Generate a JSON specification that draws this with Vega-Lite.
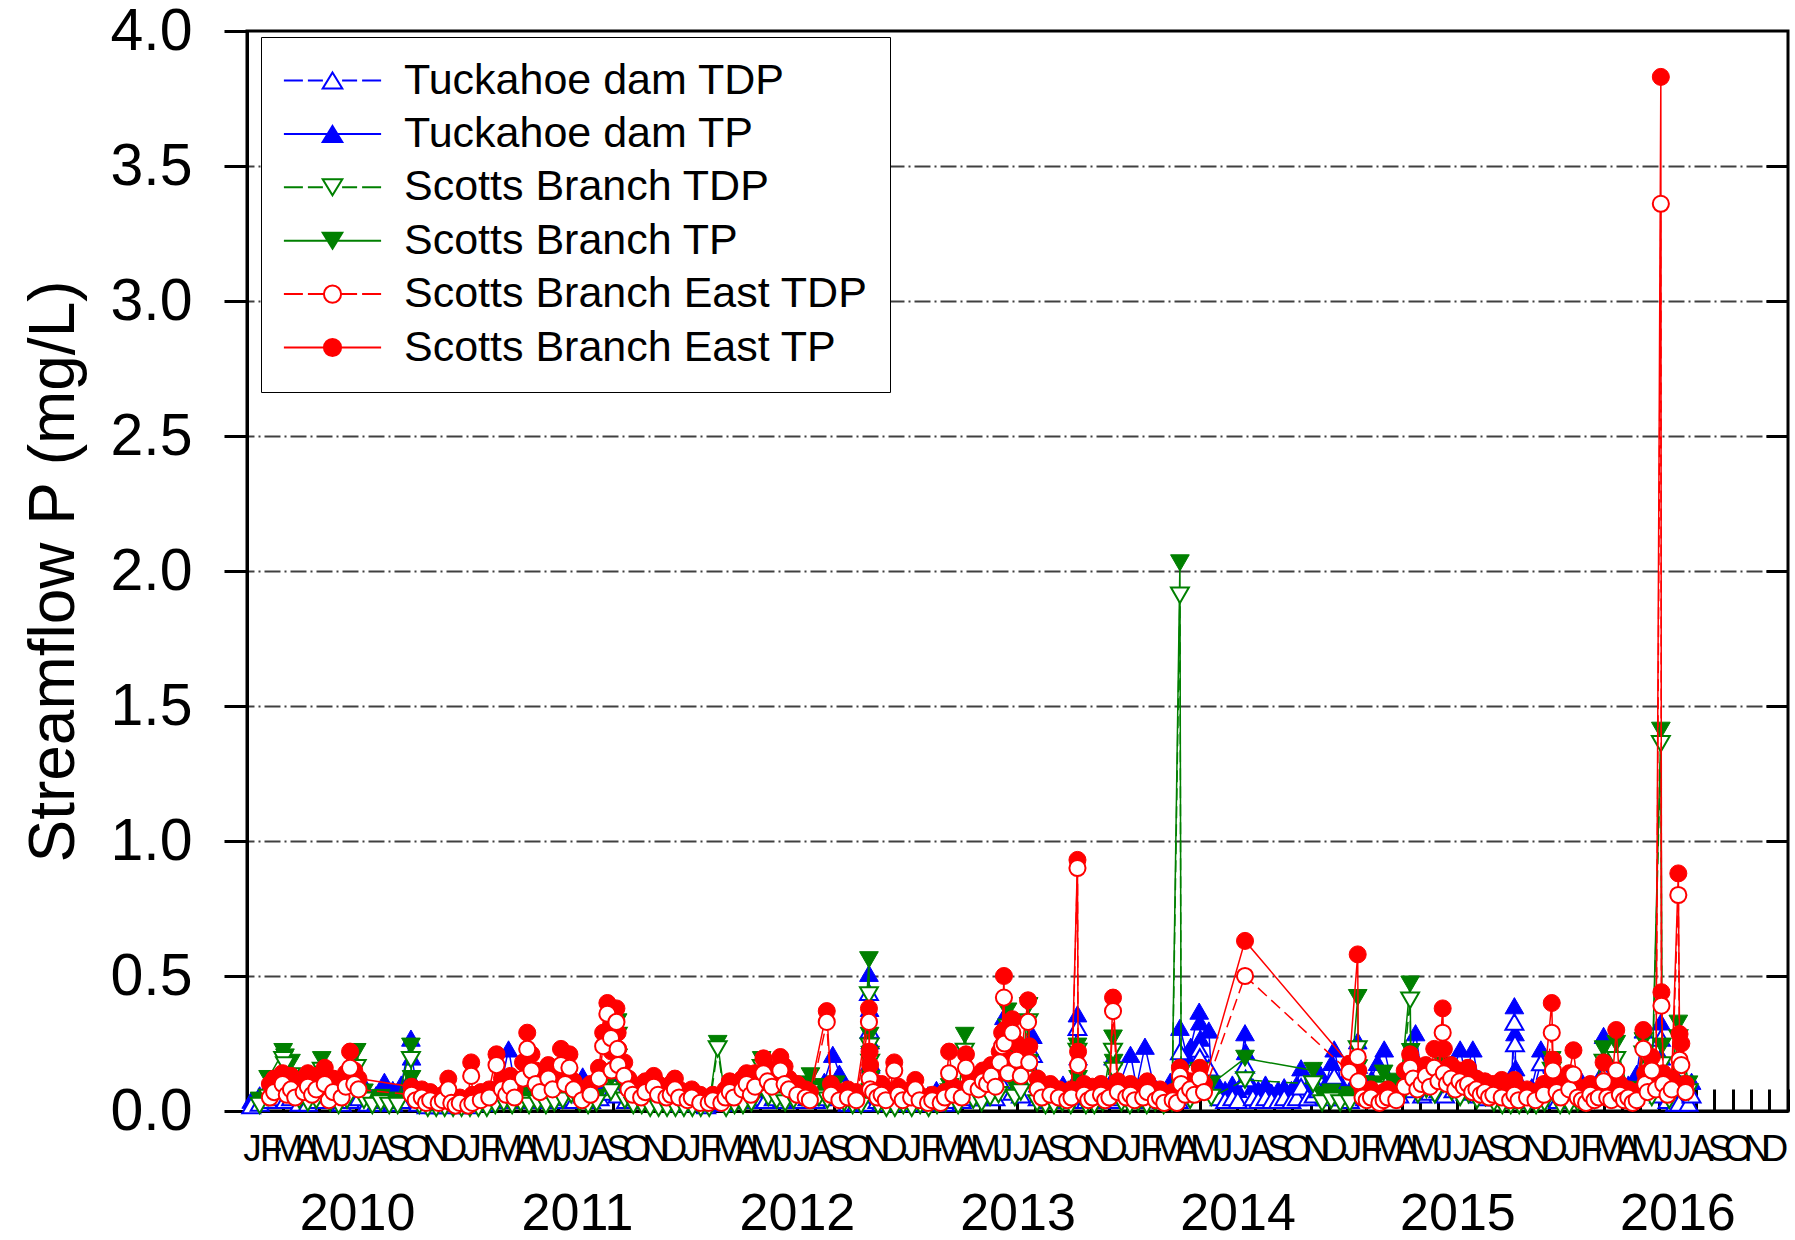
{
"$schema":"https://vega.github.io/schema/vega-lite/v6.json",
"width":1541,"height":1080,
"autosize":{"type":"none"},
"padding":{"left":247,"top":31,"right":7,"bottom":129},
"background":"#ffffff",
"config":{"font":"Liberation Sans","view":{"stroke":"#000000","strokeWidth":3}},
"resolve":{"axis":{"x":"independent","y":"independent"}},
"datasets":{
"tuck":[
{"d":"2010/01/08","a":0.02,"b":0.04},{"d":"2010/01/22","a":0.03,"b":0.06},{"d":"2010/02/05","a":0.04,"b":0.09},{"d":"2010/02/19","a":0.05,"b":0.13},{"d":"2010/03/05","a":0.04,"b":0.08},{"d":"2010/03/15","a":0.05,"b":0.10},{"d":"2010/03/29","a":0.03,"b":0.06},{"d":"2010/04/12","a":0.03,"b":0.07},{"d":"2010/04/26","a":0.04,"b":0.09},{"d":"2010/05/10","a":0.06,"b":0.16},{"d":"2010/05/24","a":0.04,"b":0.10},{"d":"2010/06/07","a":0.03,"b":0.07},{"d":"2010/06/21","a":0.04,"b":0.09},{"d":"2010/07/06","a":0.05,"b":0.13},{"d":"2010/07/20","a":0.03,"b":0.07},{"d":"2010/08/03","a":0.03,"b":0.06},{"d":"2010/08/17","a":0.04,"b":0.11},{"d":"2010/08/31","a":0.03,"b":0.08},{"d":"2010/09/14","a":0.04,"b":0.10},{"d":"2010/09/30","a":0.12,"b":0.27},{"d":"2010/10/01","a":0.08,"b":0.20},{"d":"2010/10/12","a":0.03,"b":0.07},{"d":"2010/10/26","a":0.02,"b":0.05},{"d":"2010/11/09","a":0.02,"b":0.04},{"d":"2010/11/23","a":0.02,"b":0.05},{"d":"2010/12/07","a":0.03,"b":0.05},{"d":"2010/12/21","a":0.02,"b":0.04},
{"d":"2011/01/04","a":0.02,"b":0.04},{"d":"2011/01/18","a":0.03,"b":0.05},{"d":"2011/02/01","a":0.03,"b":0.06},{"d":"2011/02/15","a":0.04,"b":0.08},{"d":"2011/03/01","a":0.05,"b":0.12},{"d":"2011/03/11","a":0.08,"b":0.23},{"d":"2011/03/22","a":0.04,"b":0.09},{"d":"2011/04/05","a":0.04,"b":0.10},{"d":"2011/04/17","a":0.05,"b":0.12},{"d":"2011/05/02","a":0.04,"b":0.09},{"d":"2011/05/16","a":0.05,"b":0.11},{"d":"2011/05/31","a":0.04,"b":0.08},{"d":"2011/06/14","a":0.05,"b":0.10},{"d":"2011/06/28","a":0.04,"b":0.09},{"d":"2011/07/12","a":0.06,"b":0.13},{"d":"2011/07/26","a":0.04,"b":0.08},{"d":"2011/08/09","a":0.05,"b":0.11},{"d":"2011/08/28","a":0.07,"b":0.16},{"d":"2011/09/08","a":0.06,"b":0.14},{"d":"2011/09/22","a":0.04,"b":0.09},{"d":"2011/10/06","a":0.04,"b":0.08},{"d":"2011/10/20","a":0.05,"b":0.10},{"d":"2011/11/03","a":0.04,"b":0.09},{"d":"2011/11/17","a":0.05,"b":0.10},{"d":"2011/12/01","a":0.04,"b":0.08},{"d":"2011/12/15","a":0.03,"b":0.07},
{"d":"2012/01/05","a":0.03,"b":0.06},{"d":"2012/01/19","a":0.03,"b":0.05},{"d":"2012/02/02","a":0.02,"b":0.05},{"d":"2012/02/16","a":0.03,"b":0.06},{"d":"2012/03/01","a":0.03,"b":0.07},{"d":"2012/03/15","a":0.04,"b":0.08},{"d":"2012/03/29","a":0.04,"b":0.09},{"d":"2012/04/12","a":0.04,"b":0.08},{"d":"2012/04/26","a":0.05,"b":0.10},{"d":"2012/05/10","a":0.04,"b":0.09},{"d":"2012/05/24","a":0.05,"b":0.11},{"d":"2012/06/07","a":0.04,"b":0.10},{"d":"2012/06/21","a":0.05,"b":0.12},{"d":"2012/07/05","a":0.04,"b":0.09},{"d":"2012/07/19","a":0.05,"b":0.10},{"d":"2012/08/02","a":0.04,"b":0.09},{"d":"2012/08/16","a":0.05,"b":0.11},{"d":"2012/08/30","a":0.08,"b":0.21},{"d":"2012/09/10","a":0.06,"b":0.14},{"d":"2012/09/24","a":0.03,"b":0.07},{"d":"2012/10/08","a":0.03,"b":0.06},{"d":"2012/10/22","a":0.03,"b":0.07},{"d":"2012/10/29","a":0.44,"b":0.51},{"d":"2012/10/30","a":0.30,"b":0.38},{"d":"2012/10/31","a":0.18,"b":0.26},{"d":"2012/11/01","a":0.10,"b":0.17},{"d":"2012/11/12","a":0.04,"b":0.08},{"d":"2012/11/26","a":0.03,"b":0.06},{"d":"2012/12/10","a":0.03,"b":0.07},{"d":"2012/12/24","a":0.03,"b":0.06},
{"d":"2013/01/07","a":0.03,"b":0.06},{"d":"2013/01/21","a":0.03,"b":0.07},{"d":"2013/02/04","a":0.03,"b":0.06},{"d":"2013/02/18","a":0.04,"b":0.08},{"d":"2013/03/04","a":0.03,"b":0.07},{"d":"2013/03/18","a":0.04,"b":0.09},{"d":"2013/04/01","a":0.04,"b":0.08},{"d":"2013/04/15","a":0.05,"b":0.10},{"d":"2013/04/29","a":0.05,"b":0.12},{"d":"2013/05/13","a":0.06,"b":0.14},{"d":"2013/05/27","a":0.05,"b":0.11},{"d":"2013/06/07","a":0.10,"b":0.22},{"d":"2013/06/10","a":0.28,"b":0.35},{"d":"2013/06/24","a":0.07,"b":0.15},{"d":"2013/07/08","a":0.06,"b":0.12},{"d":"2013/07/28","a":0.21,"b":0.28},{"d":"2013/08/05","a":0.05,"b":0.10},{"d":"2013/08/19","a":0.04,"b":0.09},{"d":"2013/09/02","a":0.04,"b":0.08},{"d":"2013/09/16","a":0.05,"b":0.10},{"d":"2013/09/30","a":0.04,"b":0.09},{"d":"2013/10/10","a":0.31,"b":0.36},{"d":"2013/10/11","a":0.12,"b":0.20},{"d":"2013/10/24","a":0.04,"b":0.08},{"d":"2013/11/07","a":0.04,"b":0.09},{"d":"2013/11/21","a":0.05,"b":0.10},{"d":"2013/12/05","a":0.04,"b":0.09},{"d":"2013/12/08","a":0.12,"b":0.20},{"d":"2013/12/19","a":0.05,"b":0.10},
{"d":"2014/01/06","a":0.08,"b":0.21},{"d":"2014/01/16","a":0.04,"b":0.09},{"d":"2014/01/30","a":0.10,"b":0.24},{"d":"2014/02/13","a":0.05,"b":0.10},{"d":"2014/02/27","a":0.04,"b":0.08},{"d":"2014/03/13","a":0.05,"b":0.11},{"d":"2014/03/27","a":0.04,"b":0.09},{"d":"2014/03/29","a":0.22,"b":0.31},{"d":"2014/04/10","a":0.12,"b":0.20},{"d":"2014/04/16","a":0.16,"b":0.24},{"d":"2014/04/30","a":0.23,"b":0.37},{"d":"2014/05/01","a":0.20,"b":0.33},{"d":"2014/05/02","a":0.12,"b":0.27},{"d":"2014/05/16","a":0.16,"b":0.30},{"d":"2014/05/20","a":0.08,"b":0.14},{"d":"2014/06/03","a":0.05,"b":0.09},{"d":"2014/06/12","a":0.04,"b":0.08},{"d":"2014/06/24","a":0.05,"b":0.10},{"d":"2014/07/03","a":0.04,"b":0.08},{"d":"2014/07/15","a":0.17,"b":0.29},{"d":"2014/07/16","a":0.12,"b":0.22},{"d":"2014/07/28","a":0.05,"b":0.09},{"d":"2014/08/06","a":0.04,"b":0.08},{"d":"2014/08/18","a":0.05,"b":0.10},{"d":"2014/08/28","a":0.04,"b":0.07},{"d":"2014/09/08","a":0.04,"b":0.08},{"d":"2014/09/18","a":0.05,"b":0.09},{"d":"2014/09/30","a":0.04,"b":0.08},{"d":"2014/10/09","a":0.05,"b":0.10},{"d":"2014/10/16","a":0.09,"b":0.16},{"d":"2014/10/27","a":0.05,"b":0.09},{"d":"2014/11/06","a":0.06,"b":0.11},{"d":"2014/11/14","a":0.08,"b":0.15},{"d":"2014/11/26","a":0.05,"b":0.10},{"d":"2014/12/06","a":0.10,"b":0.18},{"d":"2014/12/10","a":0.13,"b":0.23},{"d":"2014/12/22","a":0.05,"b":0.10},
{"d":"2015/01/05","a":0.04,"b":0.08},{"d":"2015/01/18","a":0.17,"b":0.26},{"d":"2015/01/30","a":0.05,"b":0.09},{"d":"2015/02/10","a":0.06,"b":0.12},{"d":"2015/02/20","a":0.08,"b":0.18},{"d":"2015/03/03","a":0.11,"b":0.23},{"d":"2015/03/16","a":0.05,"b":0.10},{"d":"2015/03/28","a":0.06,"b":0.12},{"d":"2015/04/10","a":0.08,"b":0.15},{"d":"2015/04/24","a":0.14,"b":0.29},{"d":"2015/05/05","a":0.06,"b":0.12},{"d":"2015/05/18","a":0.07,"b":0.14},{"d":"2015/06/01","a":0.08,"b":0.16},{"d":"2015/06/12","a":0.06,"b":0.12},{"d":"2015/06/26","a":0.08,"b":0.15},{"d":"2015/07/07","a":0.12,"b":0.23},{"d":"2015/07/16","a":0.07,"b":0.13},{"d":"2015/07/28","a":0.12,"b":0.23},{"d":"2015/08/06","a":0.06,"b":0.12},{"d":"2015/08/20","a":0.05,"b":0.10},{"d":"2015/09/03","a":0.05,"b":0.09},{"d":"2015/09/17","a":0.06,"b":0.11},{"d":"2015/09/30","a":0.04,"b":0.08},{"d":"2015/10/05","a":0.33,"b":0.39},{"d":"2015/10/06","a":0.25,"b":0.29},{"d":"2015/10/07","a":0.13,"b":0.16},{"d":"2015/10/20","a":0.04,"b":0.08},{"d":"2015/11/03","a":0.05,"b":0.09},{"d":"2015/11/18","a":0.18,"b":0.23},{"d":"2015/12/02","a":0.05,"b":0.09},{"d":"2015/12/16","a":0.04,"b":0.08},{"d":"2015/12/30","a":0.05,"b":0.10},
{"d":"2016/01/13","a":0.05,"b":0.09},{"d":"2016/01/25","a":0.06,"b":0.11},{"d":"2016/02/08","a":0.05,"b":0.10},{"d":"2016/02/22","a":0.06,"b":0.12},{"d":"2016/03/01","a":0.14,"b":0.28},{"d":"2016/03/14","a":0.08,"b":0.16},{"d":"2016/03/28","a":0.06,"b":0.12},{"d":"2016/04/11","a":0.05,"b":0.10},{"d":"2016/04/25","a":0.07,"b":0.14},{"d":"2016/05/06","a":0.13,"b":0.30},{"d":"2016/05/17","a":0.07,"b":0.13},{"d":"2016/06/01","a":0.06,"b":0.12},{"d":"2016/06/04","a":0.27,"b":0.33},{"d":"2016/06/05","a":0.10,"b":0.20},{"d":"2016/06/15","a":0.04,"b":0.08},{"d":"2016/06/28","a":0.03,"b":0.06},{"d":"2016/07/04","a":0.03,"b":0.11},{"d":"2016/07/20","a":0.03,"b":0.06},{"d":"2016/07/25","a":0.06,"b":0.11}
],
"scott":[
{"d":"2010/01/22","a":0.02,"b":0.04},{"d":"2010/02/05","a":0.05,"b":0.12},{"d":"2010/03/02","a":0.19,"b":0.22},{"d":"2010/03/05","a":0.17,"b":0.20},{"d":"2010/03/15","a":0.13,"b":0.18},{"d":"2010/03/29","a":0.04,"b":0.07},{"d":"2010/04/12","a":0.03,"b":0.05},{"d":"2010/04/26","a":0.04,"b":0.06},{"d":"2010/05/05","a":0.15,"b":0.19},{"d":"2010/05/19","a":0.03,"b":0.05},{"d":"2010/06/02","a":0.02,"b":0.04},{"d":"2010/06/16","a":0.04,"b":0.06},{"d":"2010/07/02","a":0.16,"b":0.22},{"d":"2010/07/14","a":0.04,"b":0.07},{"d":"2010/07/28","a":0.02,"b":0.04},{"d":"2010/08/11","a":0.03,"b":0.05},{"d":"2010/08/25","a":0.02,"b":0.03},{"d":"2010/09/08","a":0.02,"b":0.04},{"d":"2010/09/30","a":0.19,"b":0.24},{"d":"2010/10/01","a":0.07,"b":0.12},{"d":"2010/10/14","a":0.02,"b":0.04},{"d":"2010/10/28","a":0.01,"b":0.03},{"d":"2010/11/11","a":0.01,"b":0.02},{"d":"2010/11/25","a":0.01,"b":0.02},{"d":"2010/12/09","a":0.01,"b":0.02},{"d":"2010/12/23","a":0.01,"b":0.02},
{"d":"2011/01/06","a":0.01,"b":0.02},{"d":"2011/01/20","a":0.01,"b":0.02},{"d":"2011/02/03","a":0.01,"b":0.03},{"d":"2011/02/17","a":0.02,"b":0.04},{"d":"2011/03/03","a":0.03,"b":0.05},{"d":"2011/03/17","a":0.02,"b":0.05},{"d":"2011/03/31","a":0.03,"b":0.06},{"d":"2011/04/14","a":0.02,"b":0.04},{"d":"2011/04/28","a":0.03,"b":0.05},{"d":"2011/05/12","a":0.02,"b":0.05},{"d":"2011/05/26","a":0.03,"b":0.06},{"d":"2011/06/09","a":0.04,"b":0.08},{"d":"2011/06/23","a":0.06,"b":0.10},{"d":"2011/07/07","a":0.03,"b":0.06},{"d":"2011/07/21","a":0.02,"b":0.04},{"d":"2011/08/04","a":0.03,"b":0.05},{"d":"2011/08/28","a":0.07,"b":0.12},{"d":"2011/09/08","a":0.28,"b":0.33},{"d":"2011/09/09","a":0.15,"b":0.20},{"d":"2011/09/20","a":0.04,"b":0.08},{"d":"2011/10/04","a":0.02,"b":0.04},{"d":"2011/10/18","a":0.02,"b":0.03},{"d":"2011/11/01","a":0.01,"b":0.03},{"d":"2011/11/15","a":0.01,"b":0.02},{"d":"2011/11/29","a":0.01,"b":0.02},{"d":"2011/12/13","a":0.01,"b":0.02},{"d":"2011/12/27","a":0.01,"b":0.02},
{"d":"2012/01/10","a":0.01,"b":0.02},{"d":"2012/01/24","a":0.01,"b":0.02},{"d":"2012/02/07","a":0.01,"b":0.03},{"d":"2012/02/21","a":0.23,"b":0.25},{"d":"2012/03/06","a":0.01,"b":0.02},{"d":"2012/03/20","a":0.02,"b":0.03},{"d":"2012/04/03","a":0.02,"b":0.04},{"d":"2012/04/17","a":0.03,"b":0.06},{"d":"2012/05/04","a":0.16,"b":0.19},{"d":"2012/05/15","a":0.05,"b":0.09},{"d":"2012/05/29","a":0.04,"b":0.07},{"d":"2012/06/12","a":0.03,"b":0.06},{"d":"2012/06/26","a":0.04,"b":0.08},{"d":"2012/07/10","a":0.05,"b":0.10},{"d":"2012/07/24","a":0.07,"b":0.13},{"d":"2012/08/07","a":0.05,"b":0.09},{"d":"2012/08/21","a":0.04,"b":0.07},{"d":"2012/09/04","a":0.06,"b":0.10},{"d":"2012/09/18","a":0.03,"b":0.05},{"d":"2012/10/02","a":0.02,"b":0.04},{"d":"2012/10/16","a":0.02,"b":0.04},{"d":"2012/10/29","a":0.43,"b":0.56},{"d":"2012/10/30","a":0.24,"b":0.28},{"d":"2012/10/31","a":0.18,"b":0.21},{"d":"2012/11/01","a":0.07,"b":0.12},{"d":"2012/11/13","a":0.02,"b":0.04},{"d":"2012/11/27","a":0.01,"b":0.03},{"d":"2012/12/11","a":0.01,"b":0.03},{"d":"2012/12/25","a":0.02,"b":0.04},
{"d":"2013/01/08","a":0.01,"b":0.03},{"d":"2013/01/22","a":0.02,"b":0.03},{"d":"2013/02/05","a":0.01,"b":0.02},{"d":"2013/02/19","a":0.02,"b":0.03},{"d":"2013/03/05","a":0.03,"b":0.05},{"d":"2013/03/12","a":0.07,"b":0.09},{"d":"2013/03/26","a":0.02,"b":0.04},{"d":"2013/04/06","a":0.22,"b":0.28},{"d":"2013/04/20","a":0.04,"b":0.07},{"d":"2013/05/04","a":0.03,"b":0.06},{"d":"2013/05/18","a":0.05,"b":0.09},{"d":"2013/06/01","a":0.06,"b":0.11},{"d":"2013/06/16","a":0.31,"b":0.37},{"d":"2013/06/17","a":0.14,"b":0.20},{"d":"2013/06/28","a":0.05,"b":0.09},{"d":"2013/07/08","a":0.07,"b":0.12},{"d":"2013/07/21","a":0.33,"b":0.39},{"d":"2013/07/22","a":0.12,"b":0.18},{"d":"2013/08/04","a":0.03,"b":0.06},{"d":"2013/08/18","a":0.02,"b":0.05},{"d":"2013/09/01","a":0.02,"b":0.04},{"d":"2013/09/15","a":0.03,"b":0.05},{"d":"2013/09/29","a":0.02,"b":0.04},{"d":"2013/10/10","a":0.22,"b":0.24},{"d":"2013/10/11","a":0.08,"b":0.12},{"d":"2013/10/24","a":0.02,"b":0.04},{"d":"2013/11/07","a":0.02,"b":0.04},{"d":"2013/11/21","a":0.03,"b":0.05},{"d":"2013/12/08","a":0.22,"b":0.27},{"d":"2013/12/09","a":0.15,"b":0.18},{"d":"2013/12/22","a":0.03,"b":0.06},
{"d":"2014/01/05","a":0.02,"b":0.04},{"d":"2014/01/19","a":0.03,"b":0.05},{"d":"2014/02/02","a":0.02,"b":0.04},{"d":"2014/02/16","a":0.03,"b":0.06},{"d":"2014/03/02","a":0.02,"b":0.05},{"d":"2014/03/16","a":0.03,"b":0.06},{"d":"2014/03/29","a":1.91,"b":2.03},{"d":"2014/03/31","a":0.10,"b":0.14},{"d":"2014/04/15","a":0.04,"b":0.08},{"d":"2014/04/30","a":0.10,"b":0.15},{"d":"2014/05/20","a":0.05,"b":0.10},{"d":"2014/07/15","a":0.115,"b":0.195},{"d":"2014/11/05","a":0.10,"b":0.15},{"d":"2014/11/20","a":0.03,"b":0.06},{"d":"2014/12/05","a":0.04,"b":0.07},{"d":"2014/12/20","a":0.03,"b":0.05},
{"d":"2015/01/05","a":0.03,"b":0.06},{"d":"2015/01/18","a":0.23,"b":0.42},{"d":"2015/01/19","a":0.10,"b":0.16},{"d":"2015/02/02","a":0.04,"b":0.07},{"d":"2015/02/16","a":0.05,"b":0.10},{"d":"2015/03/02","a":0.08,"b":0.14},{"d":"2015/03/16","a":0.06,"b":0.11},{"d":"2015/03/30","a":0.05,"b":0.09},{"d":"2015/04/15","a":0.41,"b":0.47},{"d":"2015/04/16","a":0.13,"b":0.22},{"d":"2015/04/28","a":0.06,"b":0.12},{"d":"2015/05/12","a":0.08,"b":0.15},{"d":"2015/05/26","a":0.06,"b":0.12},{"d":"2015/06/09","a":0.10,"b":0.17},{"d":"2015/06/23","a":0.07,"b":0.13},{"d":"2015/07/07","a":0.05,"b":0.10},{"d":"2015/07/21","a":0.06,"b":0.12},{"d":"2015/08/04","a":0.04,"b":0.08},{"d":"2015/08/18","a":0.05,"b":0.09},{"d":"2015/09/01","a":0.03,"b":0.06},{"d":"2015/09/15","a":0.02,"b":0.05},{"d":"2015/09/29","a":0.02,"b":0.04},{"d":"2015/10/13","a":0.02,"b":0.04},{"d":"2015/10/27","a":0.02,"b":0.03},{"d":"2015/11/10","a":0.02,"b":0.04},{"d":"2015/11/24","a":0.03,"b":0.05},{"d":"2015/12/06","a":0.15,"b":0.19},{"d":"2015/12/20","a":0.02,"b":0.04},
{"d":"2016/01/04","a":0.02,"b":0.04},{"d":"2016/01/18","a":0.03,"b":0.05},{"d":"2016/02/01","a":0.03,"b":0.05},{"d":"2016/02/15","a":0.04,"b":0.07},{"d":"2016/03/01","a":0.18,"b":0.23},{"d":"2016/03/15","a":0.05,"b":0.08},{"d":"2016/03/22","a":0.19,"b":0.25},{"d":"2016/04/12","a":0.04,"b":0.06},{"d":"2016/04/26","a":0.05,"b":0.08},{"d":"2016/05/06","a":0.21,"b":0.26},{"d":"2016/05/20","a":0.05,"b":0.09},{"d":"2016/06/04","a":1.36,"b":1.41},{"d":"2016/06/06","a":0.17,"b":0.24},{"d":"2016/06/18","a":0.04,"b":0.065},{"d":"2016/07/03","a":0.27,"b":0.325},{"d":"2016/07/20","a":0.07,"b":0.10}
],
"east":[
{"d":"2010/02/08","a":0.05,"b":0.10},{"d":"2010/02/15","a":0.07,"b":0.12},{"d":"2010/03/01","a":0.10,"b":0.14},{"d":"2010/03/08","a":0.06,"b":0.11},{"d":"2010/03/15","a":0.08,"b":0.13},{"d":"2010/03/22","a":0.05,"b":0.09},{"d":"2010/04/05","a":0.07,"b":0.12},{"d":"2010/04/12","a":0.09,"b":0.14},{"d":"2010/04/19","a":0.06,"b":0.10},{"d":"2010/04/26","a":0.08,"b":0.13},{"d":"2010/05/10","a":0.10,"b":0.16},{"d":"2010/05/17","a":0.04,"b":0.08},{"d":"2010/05/24","a":0.07,"b":0.12},{"d":"2010/06/07","a":0.05,"b":0.09},{"d":"2010/06/14","a":0.09,"b":0.14},{"d":"2010/06/21","a":0.16,"b":0.22},{"d":"2010/06/28","a":0.10,"b":0.15},{"d":"2010/07/05","a":0.08,"b":0.12},{"d":"2010/10/01","a":0.06,"b":0.09},{"d":"2010/10/08","a":0.04,"b":0.07},{"d":"2010/10/18","a":0.05,"b":0.08},{"d":"2010/10/25","a":0.03,"b":0.06},{"d":"2010/11/01","a":0.04,"b":0.07},{"d":"2010/11/15","a":0.03,"b":0.05},{"d":"2010/11/22","a":0.04,"b":0.06},{"d":"2010/12/01","a":0.08,"b":0.12},{"d":"2010/12/06","a":0.03,"b":0.05},{"d":"2010/12/13","a":0.02,"b":0.04},{"d":"2010/12/20","a":0.03,"b":0.05},
{"d":"2011/01/03","a":0.02,"b":0.04},{"d":"2011/01/08","a":0.13,"b":0.18},{"d":"2011/01/10","a":0.03,"b":0.06},{"d":"2011/01/24","a":0.04,"b":0.07},{"d":"2011/02/07","a":0.05,"b":0.08},{"d":"2011/02/19","a":0.17,"b":0.21},{"d":"2011/02/28","a":0.08,"b":0.12},{"d":"2011/03/07","a":0.06,"b":0.10},{"d":"2011/03/14","a":0.09,"b":0.13},{"d":"2011/03/21","a":0.05,"b":0.08},{"d":"2011/04/04","a":0.12,"b":0.18},{"d":"2011/04/11","a":0.23,"b":0.29},{"d":"2011/04/18","a":0.15,"b":0.21},{"d":"2011/04/25","a":0.10,"b":0.15},{"d":"2011/05/02","a":0.07,"b":0.12},{"d":"2011/05/16","a":0.12,"b":0.17},{"d":"2011/05/23","a":0.08,"b":0.13},{"d":"2011/06/06","a":0.17,"b":0.23},{"d":"2011/06/13","a":0.10,"b":0.14},{"d":"2011/06/20","a":0.16,"b":0.21},{"d":"2011/06/27","a":0.08,"b":0.11},{"d":"2011/07/11","a":0.04,"b":0.08},{"d":"2011/07/25","a":0.06,"b":0.10},{"d":"2011/08/08","a":0.12,"b":0.16},{"d":"2011/08/15","a":0.24,"b":0.29},{"d":"2011/08/22","a":0.36,"b":0.40},{"d":"2011/08/28","a":0.27,"b":0.32},{"d":"2011/08/29","a":0.15,"b":0.22},{"d":"2011/09/06","a":0.33,"b":0.38},{"d":"2011/09/08","a":0.23,"b":0.29},{"d":"2011/09/09","a":0.17,"b":0.23},{"d":"2011/09/19","a":0.13,"b":0.18},{"d":"2011/09/26","a":0.08,"b":0.12},{"d":"2011/10/03","a":0.06,"b":0.10},{"d":"2011/10/17","a":0.05,"b":0.09},{"d":"2011/10/24","a":0.07,"b":0.11},{"d":"2011/11/07","a":0.09,"b":0.13},{"d":"2011/11/14","a":0.06,"b":0.10},{"d":"2011/11/28","a":0.05,"b":0.08},{"d":"2011/12/05","a":0.06,"b":0.10},{"d":"2011/12/12","a":0.08,"b":0.12},{"d":"2011/12/19","a":0.05,"b":0.08},
{"d":"2012/01/02","a":0.04,"b":0.07},{"d":"2012/01/09","a":0.05,"b":0.08},{"d":"2012/01/23","a":0.03,"b":0.06},{"d":"2012/02/06","a":0.03,"b":0.05},{"d":"2012/02/13","a":0.04,"b":0.06},{"d":"2012/02/27","a":0.03,"b":0.05},{"d":"2012/03/05","a":0.05,"b":0.08},{"d":"2012/03/12","a":0.07,"b":0.11},{"d":"2012/03/19","a":0.05,"b":0.09},{"d":"2012/04/02","a":0.08,"b":0.12},{"d":"2012/04/09","a":0.10,"b":0.14},{"d":"2012/04/16","a":0.06,"b":0.10},{"d":"2012/04/23","a":0.09,"b":0.14},{"d":"2012/05/07","a":0.14,"b":0.195},{"d":"2012/05/14","a":0.11,"b":0.16},{"d":"2012/05/21","a":0.09,"b":0.13},{"d":"2012/06/04","a":0.15,"b":0.20},{"d":"2012/06/11","a":0.10,"b":0.165},{"d":"2012/06/18","a":0.08,"b":0.12},{"d":"2012/07/02","a":0.06,"b":0.10},{"d":"2012/07/16","a":0.05,"b":0.08},{"d":"2012/07/23","a":0.04,"b":0.07},{"d":"2012/08/20","a":0.33,"b":0.37},{"d":"2012/08/27","a":0.06,"b":0.10},{"d":"2012/09/10","a":0.04,"b":0.07},{"d":"2012/09/24","a":0.05,"b":0.08},{"d":"2012/10/08","a":0.04,"b":0.07},{"d":"2012/10/29","a":0.33,"b":0.38},{"d":"2012/10/30","a":0.12,"b":0.22},{"d":"2012/10/31","a":0.08,"b":0.17},{"d":"2012/11/05","a":0.07,"b":0.11},{"d":"2012/11/12","a":0.05,"b":0.09},{"d":"2012/11/19","a":0.06,"b":0.10},{"d":"2012/11/26","a":0.04,"b":0.08},{"d":"2012/12/10","a":0.15,"b":0.18},{"d":"2012/12/17","a":0.06,"b":0.09},{"d":"2012/12/24","a":0.04,"b":0.07},
{"d":"2013/01/07","a":0.05,"b":0.08},{"d":"2013/01/14","a":0.08,"b":0.115},{"d":"2013/01/21","a":0.04,"b":0.06},{"d":"2013/02/04","a":0.03,"b":0.05},{"d":"2013/02/11","a":0.04,"b":0.06},{"d":"2013/02/25","a":0.03,"b":0.05},{"d":"2013/03/04","a":0.05,"b":0.07},{"d":"2013/03/11","a":0.14,"b":0.22},{"d":"2013/03/18","a":0.06,"b":0.09},{"d":"2013/04/01","a":0.05,"b":0.08},{"d":"2013/04/08","a":0.16,"b":0.21},{"d":"2013/04/15","a":0.09,"b":0.13},{"d":"2013/04/29","a":0.08,"b":0.12},{"d":"2013/05/06","a":0.11,"b":0.15},{"d":"2013/05/13","a":0.10,"b":0.15},{"d":"2013/05/20","a":0.13,"b":0.17},{"d":"2013/05/27","a":0.09,"b":0.13},{"d":"2013/06/03","a":0.18,"b":0.22},{"d":"2013/06/07","a":0.24,"b":0.29},{"d":"2013/06/10","a":0.42,"b":0.50},{"d":"2013/06/11","a":0.25,"b":0.30},{"d":"2013/06/17","a":0.14,"b":0.19},{"d":"2013/06/24","a":0.29,"b":0.34},{"d":"2013/07/01","a":0.19,"b":0.25},{"d":"2013/07/08","a":0.13,"b":0.20},{"d":"2013/07/20","a":0.33,"b":0.41},{"d":"2013/07/22","a":0.18,"b":0.24},{"d":"2013/08/05","a":0.08,"b":0.12},{"d":"2013/08/12","a":0.05,"b":0.09},{"d":"2013/08/26","a":0.06,"b":0.10},{"d":"2013/09/09","a":0.05,"b":0.08},{"d":"2013/09/23","a":0.04,"b":0.07},{"d":"2013/09/30","a":0.05,"b":0.08},{"d":"2013/10/10","a":0.90,"b":0.93},{"d":"2013/10/11","a":0.17,"b":0.22},{"d":"2013/10/21","a":0.06,"b":0.10},{"d":"2013/10/28","a":0.04,"b":0.07},{"d":"2013/11/04","a":0.05,"b":0.09},{"d":"2013/11/18","a":0.06,"b":0.10},{"d":"2013/11/25","a":0.04,"b":0.07},{"d":"2013/12/02","a":0.05,"b":0.08},{"d":"2013/12/08","a":0.37,"b":0.42},{"d":"2013/12/16","a":0.07,"b":0.11},{"d":"2013/12/30","a":0.05,"b":0.08},
{"d":"2014/01/06","a":0.06,"b":0.10},{"d":"2014/01/13","a":0.04,"b":0.07},{"d":"2014/01/27","a":0.05,"b":0.09},{"d":"2014/02/03","a":0.07,"b":0.11},{"d":"2014/02/17","a":0.04,"b":0.07},{"d":"2014/02/24","a":0.05,"b":0.08},{"d":"2014/03/03","a":0.03,"b":0.06},{"d":"2014/03/17","a":0.04,"b":0.07},{"d":"2014/03/24","a":0.03,"b":0.05},{"d":"2014/03/29","a":0.13,"b":0.16},{"d":"2014/03/31","a":0.10,"b":0.13},{"d":"2014/04/07","a":0.06,"b":0.09},{"d":"2014/04/15","a":0.08,"b":0.11},{"d":"2014/04/22","a":0.06,"b":0.09},{"d":"2014/05/01","a":0.12,"b":0.16},{"d":"2014/05/08","a":0.07,"b":0.10},{"d":"2014/07/15","a":0.50,"b":0.63},
{"d":"2015/01/04","a":0.145,"b":0.175},{"d":"2015/01/18","a":0.20,"b":0.58},{"d":"2015/01/19","a":0.11,"b":0.15},{"d":"2015/01/26","a":0.05,"b":0.08},{"d":"2015/02/02","a":0.04,"b":0.07},{"d":"2015/02/09","a":0.05,"b":0.08},{"d":"2015/02/23","a":0.03,"b":0.06},{"d":"2015/03/02","a":0.04,"b":0.07},{"d":"2015/03/09","a":0.05,"b":0.08},{"d":"2015/03/23","a":0.04,"b":0.06},{"d":"2015/04/06","a":0.09,"b":0.15},{"d":"2015/04/15","a":0.16,"b":0.21},{"d":"2015/04/20","a":0.12,"b":0.18},{"d":"2015/04/27","a":0.08,"b":0.11},{"d":"2015/05/04","a":0.10,"b":0.14},{"d":"2015/05/11","a":0.13,"b":0.17},{"d":"2015/05/18","a":0.09,"b":0.12},{"d":"2015/05/25","a":0.16,"b":0.23},{"d":"2015/06/01","a":0.11,"b":0.15},{"d":"2015/06/08","a":0.29,"b":0.38},{"d":"2015/06/10","a":0.14,"b":0.23},{"d":"2015/06/15","a":0.10,"b":0.16},{"d":"2015/06/22","a":0.12,"b":0.17},{"d":"2015/06/29","a":0.08,"b":0.13},{"d":"2015/07/06","a":0.11,"b":0.15},{"d":"2015/07/13","a":0.09,"b":0.13},{"d":"2015/07/20","a":0.10,"b":0.16},{"d":"2015/07/27","a":0.07,"b":0.11},{"d":"2015/08/03","a":0.08,"b":0.12},{"d":"2015/08/10","a":0.06,"b":0.10},{"d":"2015/08/17","a":0.07,"b":0.11},{"d":"2015/08/24","a":0.05,"b":0.09},{"d":"2015/08/31","a":0.06,"b":0.10},{"d":"2015/09/14","a":0.05,"b":0.115},{"d":"2015/09/28","a":0.04,"b":0.07},{"d":"2015/10/05","a":0.06,"b":0.115},{"d":"2015/10/12","a":0.04,"b":0.06},{"d":"2015/10/26","a":0.05,"b":0.08},{"d":"2015/11/09","a":0.04,"b":0.07},{"d":"2015/11/23","a":0.06,"b":0.10},{"d":"2015/12/06","a":0.29,"b":0.40},{"d":"2015/12/08","a":0.15,"b":0.19},{"d":"2015/12/14","a":0.07,"b":0.11},{"d":"2015/12/21","a":0.05,"b":0.08},
{"d":"2016/01/04","a":0.08,"b":0.14},{"d":"2016/01/11","a":0.135,"b":0.225},{"d":"2016/01/18","a":0.05,"b":0.09},{"d":"2016/01/25","a":0.04,"b":0.07},{"d":"2016/02/01","a":0.03,"b":0.06},{"d":"2016/02/08","a":0.06,"b":0.10},{"d":"2016/02/15","a":0.04,"b":0.07},{"d":"2016/02/22","a":0.05,"b":0.08},{"d":"2016/03/01","a":0.11,"b":0.18},{"d":"2016/03/07","a":0.05,"b":0.08},{"d":"2016/03/14","a":0.04,"b":0.07},{"d":"2016/03/22","a":0.15,"b":0.30},{"d":"2016/03/28","a":0.06,"b":0.10},{"d":"2016/04/04","a":0.04,"b":0.07},{"d":"2016/04/11","a":0.05,"b":0.08},{"d":"2016/04/18","a":0.03,"b":0.06},{"d":"2016/04/25","a":0.04,"b":0.07},{"d":"2016/05/06","a":0.23,"b":0.30},{"d":"2016/05/09","a":0.10,"b":0.14},{"d":"2016/05/13","a":0.07,"b":0.10},{"d":"2016/05/20","a":0.15,"b":0.20},{"d":"2016/05/27","a":0.08,"b":0.12},{"d":"2016/06/04","a":3.36,"b":3.83},{"d":"2016/06/05","a":0.39,"b":0.44},{"d":"2016/06/08","a":0.10,"b":0.14},{"d":"2016/06/15","a":0.06,"b":0.10},{"d":"2016/06/22","a":0.08,"b":0.12},{"d":"2016/07/03","a":0.80,"b":0.88},{"d":"2016/07/05","a":0.19,"b":0.285},{"d":"2016/07/08","a":0.17,"b":0.25},{"d":"2016/07/15","a":0.07,"b":0.10}
]
},
"layer":[
{"data":{"name":"tuck"},"mark":{"type":"line","color":"#0000ff","strokeWidth":1.5},
 "encoding":{
  "x":{"field":"d","type":"temporal","scale":{"domain":[{"year":2010,"month":1,"date":1},{"year":2017,"month":1,"date":1}],"nice":false},
   "axis":{"orient":"bottom","tickCount":{"interval":"month","step":1},"labels":false,"grid":false,"domain":true,"domainColor":"#000000","domainWidth":3,"ticks":true,"tickSize":-22,"tickWidth":3,"tickColor":"#000000","title":null}},
  "y":{"field":"b","type":"quantitative","scale":{"domain":[0,4],"nice":false},
   "axis":{"orient":"left","values":[0,0.5,1,1.5,2,2.5,3,3.5,4],"format":".1f","grid":false,"domain":true,"domainColor":"#000000","domainWidth":3,"ticks":true,"tickSize":23,"tickWidth":3,"tickColor":"#000000","labelFontSize":59,"labelPadding":32,"labelColor":"#000000","labelFlush":false,"labelOverlap":false,"title":"Streamflow P (mg/L)","titleFontSize":64,"titleFontWeight":"normal","titleColor":"#000000","titlePadding":23}}}},
{"data":{"name":"tuck"},"mark":{"type":"point","shape":"triangle-up","filled":true,"color":"#0000ff","stroke":"#0000ff","strokeWidth":1,"size":350,"opacity":1},
 "encoding":{
  "x":{"field":"d","type":"temporal","scale":{"domain":[{"year":2010,"month":1,"date":1},{"year":2017,"month":1,"date":1}],"nice":false},
   "axis":{"orient":"bottom","tickCount":{"interval":"month","step":1},"labelExpr":"timeFormat(datum.value, '%Y') == '2017' ? '' : substring(timeFormat(datum.value, '%b'), 0, 1)","labelOffset":5,"labelPadding":20,"labelFontSize":37,"labelColor":"#000000","labelFlush":false,"labelOverlap":false,"labelBound":false,"domain":false,"ticks":false,"grid":false,"title":null}},
  "y":{"field":"b","type":"quantitative","scale":{"domain":[0,4],"nice":false},
   "axis":{"orient":"right","values":[0.5,1,1.5,2,2.5,3,3.5],"grid":true,"gridColor":"#404040","gridDash":[16,4,2,4],"gridWidth":2,"domain":false,"ticks":true,"tickSize":-22,"tickWidth":3,"tickColor":"#000000","labels":false,"title":null}}}},
{"data":{"name":"tuck"},"mark":{"type":"line","color":"#0000ff","strokeWidth":1.5,"strokeDash":[12,6]},
 "encoding":{
  "x":{"field":"d","type":"temporal","scale":{"domain":[{"year":2010,"month":1,"date":1},{"year":2017,"month":1,"date":1}],"nice":false},
   "axis":{"orient":"bottom","tickCount":{"interval":"year","step":1},"labelExpr":"timeFormat(datum.value, '%Y') == '2017' ? '' : timeFormat(datum.value, '%Y')","labelOffset":110,"labelPadding":77,"labelFontSize":52,"labelColor":"#000000","labelFlush":false,"labelOverlap":false,"labelBound":false,"domain":false,"ticks":false,"grid":false,"title":null}},
  "y":{"field":"a","type":"quantitative","scale":{"domain":[0,4],"nice":false},"axis":null}}},
{"data":{"name":"tuck"},"mark":{"type":"point","shape":"triangle-up","filled":true,"fill":"#ffffff","stroke":"#0000ff","strokeWidth":2,"size":320,"opacity":1},
 "encoding":{"x":{"field":"d","type":"temporal","axis":null},"y":{"field":"a","type":"quantitative","axis":null}}},
{"data":{"name":"scott"},"mark":{"type":"line","color":"#008000","strokeWidth":1.5},
 "encoding":{"x":{"field":"d","type":"temporal","axis":null},"y":{"field":"b","type":"quantitative","axis":null}}},
{"data":{"name":"scott"},"mark":{"type":"point","shape":"triangle-down","filled":true,"color":"#008000","stroke":"#008000","strokeWidth":1,"size":350,"opacity":1},
 "encoding":{"x":{"field":"d","type":"temporal","axis":null},"y":{"field":"b","type":"quantitative","axis":null}}},
{"data":{"name":"scott"},"mark":{"type":"line","color":"#008000","strokeWidth":1.5,"strokeDash":[12,6]},
 "encoding":{"x":{"field":"d","type":"temporal","axis":null},"y":{"field":"a","type":"quantitative","axis":null}}},
{"data":{"name":"scott"},"mark":{"type":"point","shape":"triangle-down","filled":true,"fill":"#ffffff","stroke":"#008000","strokeWidth":2,"size":320,"opacity":1},
 "encoding":{"x":{"field":"d","type":"temporal","axis":null},"y":{"field":"a","type":"quantitative","axis":null}}},
{"data":{"name":"east"},"mark":{"type":"line","color":"#ff0000","strokeWidth":1.5},
 "encoding":{"x":{"field":"d","type":"temporal","axis":null},"y":{"field":"b","type":"quantitative","axis":null}}},
{"data":{"name":"east"},"mark":{"type":"point","shape":"circle","filled":true,"color":"#ff0000","stroke":"#ff0000","strokeWidth":1,"size":290,"opacity":1},
 "encoding":{"x":{"field":"d","type":"temporal","axis":null},"y":{"field":"b","type":"quantitative","axis":null}}},
{"data":{"name":"east"},"mark":{"type":"line","color":"#ff0000","strokeWidth":1.5,"strokeDash":[12,6]},
 "encoding":{"x":{"field":"d","type":"temporal","axis":null},"y":{"field":"a","type":"quantitative","axis":null}}},
{"data":{"name":"east"},"mark":{"type":"point","shape":"circle","filled":true,"fill":"#ffffff","stroke":"#ff0000","strokeWidth":2,"size":260,"opacity":1},
 "encoding":{"x":{"field":"d","type":"temporal","axis":null},"y":{"field":"a","type":"quantitative","axis":null}}},
{"data":{"values":[]},"mark":{"type":"point","opacity":1},
 "encoding":{
  "shape":{"field":"s","type":"nominal","scale":{"domain":["Tuckahoe dam TDP","Tuckahoe dam TP","Scotts Branch TDP","Scotts Branch TP","Scotts Branch East TDP","Scotts Branch East TP"],
    "range":["M-2.43,0H-1.48M-1.23,0H-0.48M0.48,0H1.23M1.48,0H2.43M0,-0.4L0.49,0.4L-0.49,0.4Z","M-2.43,0H2.43M0,-0.4L0.49,0.4L-0.49,0.4Z","M-2.43,0H-1.48M-1.23,0H-0.48M0.48,0H1.23M1.48,0H2.43M0,0.4L0.49,-0.4L-0.49,-0.4Z","M-2.43,0H2.43M0,0.4L0.49,-0.4L-0.49,-0.4Z","M-2.43,0H-1.48M-1.23,0H-0.43M0.43,0H1.23M1.48,0H2.43M0.43,0A0.43,0.43,0,1,1,-0.43,0A0.43,0.43,0,1,1,0.43,0Z","M-2.43,0H2.43M0.43,0A0.43,0.43,0,1,1,-0.43,0A0.43,0.43,0,1,1,0.43,0Z"]},
   "legend":{"title":null,"orient":"none","legendX":14,"legendY":6,"direction":"vertical","columns":1,"symbolSize":1600,"symbolStrokeWidth":2,"symbolOpacity":1,"symbolOffset":28,"labelFontSize":43,"labelColor":"#000000","labelLimit":1000,"labelOffset":50,"rowPadding":9.4,"padding":22,"strokeColor":"#000000","fillColor":"#ffffff",
     "encode":{"symbols":{"update":{"fill":{"scale":"fill","field":"value"},"stroke":{"scale":"stroke","field":"value"},"opacity":{"value":1},"strokeWidth":{"value":2}}}}}},
  "stroke":{"field":"s","type":"nominal","scale":{"domain":["Tuckahoe dam TDP","Tuckahoe dam TP","Scotts Branch TDP","Scotts Branch TP","Scotts Branch East TDP","Scotts Branch East TP"],"range":["#0000ff","#0000ff","#008000","#008000","#ff0000","#ff0000"]},
   "legend":{"title":null,"orient":"none","legendX":14,"legendY":6,"direction":"vertical","columns":1,"symbolSize":1600,"symbolStrokeWidth":2,"symbolOpacity":1,"symbolOffset":28,"labelFontSize":43,"labelColor":"#000000","labelLimit":1000,"labelOffset":50,"rowPadding":9.4,"padding":22,"strokeColor":"#000000","fillColor":"#ffffff"}},
  "fill":{"field":"s","type":"nominal","scale":{"domain":["Tuckahoe dam TDP","Tuckahoe dam TP","Scotts Branch TDP","Scotts Branch TP","Scotts Branch East TDP","Scotts Branch East TP"],"range":["#ffffff","#0000ff","#ffffff","#008000","#ffffff","#ff0000"]},
   "legend":{"title":null,"orient":"none","legendX":14,"legendY":6,"direction":"vertical","columns":1,"symbolSize":1600,"symbolStrokeWidth":2,"symbolOpacity":1,"symbolOffset":28,"labelFontSize":43,"labelColor":"#000000","labelLimit":1000,"labelOffset":50,"rowPadding":9.4,"padding":22,"strokeColor":"#000000","fillColor":"#ffffff"}}
 }}
]
}
